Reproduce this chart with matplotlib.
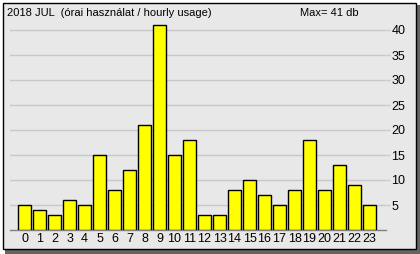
import matplotlib
matplotlib.use("Agg")
import numpy as np
from matplotlib import pyplot as plt
from matplotlib.patches import Rectangle

hours = list(range(24))
usage = [5, 4, 3, 6, 5, 15, 8, 12, 21, 41, 15, 18, 3, 3, 8, 10, 7, 5, 8, 18, 8, 13, 9, 5]
y_ticks = [5, 10, 15, 20, 25, 30, 35, 40]
title = "2018 JUL  (órai használat / hourly usage)"
max_text = "Max= %d db" % max(usage)

W, H = 420, 254
plt.rcParams['font.family'] = ['Liberation Sans', 'DejaVu Sans']
fig = plt.figure(figsize=(W / 100, H / 100), dpi=100)
fig.patch.set_facecolor("white")

def fx(px):
    return px / W

def fy(py):
    return 1 - py / H

# shadow + panel
fig.patches.append(Rectangle((fx(5), fy(254)), fx(415), 249 / H, transform=fig.transFigure,
                             facecolor="#646464", edgecolor="none", zorder=-2))
fig.patches.append(Rectangle((fx(2.5), fy(249)), fx(413), 246.5 / H, transform=fig.transFigure,
                             facecolor="#e8e8e8", edgecolor="black", linewidth=1.0, zorder=-1))

ax = fig.add_axes([fx(10), fy(230), fx(376), 220 / H])
ax.set_facecolor("none")
ax.bar(hours, usage, width=13 / 15, color="#ffff00", edgecolor="black", linewidth=1.0, zorder=3)
ax.set_xlim(-0.967, 24.1)
ax.set_ylim(0, 44)

for s in ["top", "left", "right"]:
    ax.spines[s].set_visible(False)
ax.spines["bottom"].set_color("#808080")
ax.spines["bottom"].set_linewidth(1.0)

ax.set_xticks(hours)
ax.set_xticklabels([str(h) for h in hours])
ax.tick_params(axis="x", length=0, pad=2, labelsize=9)
ax.yaxis.tick_right()
ax.set_yticks(y_ticks)
ax.tick_params(axis="y", length=3, width=1, color="#c8c8c8", pad=1, labelsize=9)
ax.grid(axis="y", color="#c8c8c8", linewidth=1.0, zorder=0)

fig.text(fx(7), fy(13), title, fontsize=8, va="center", ha="left")
fig.text(fx(300), fy(13), max_text, fontsize=8, va="center", ha="left")

plt.savefig("out.png", dpi=100)
